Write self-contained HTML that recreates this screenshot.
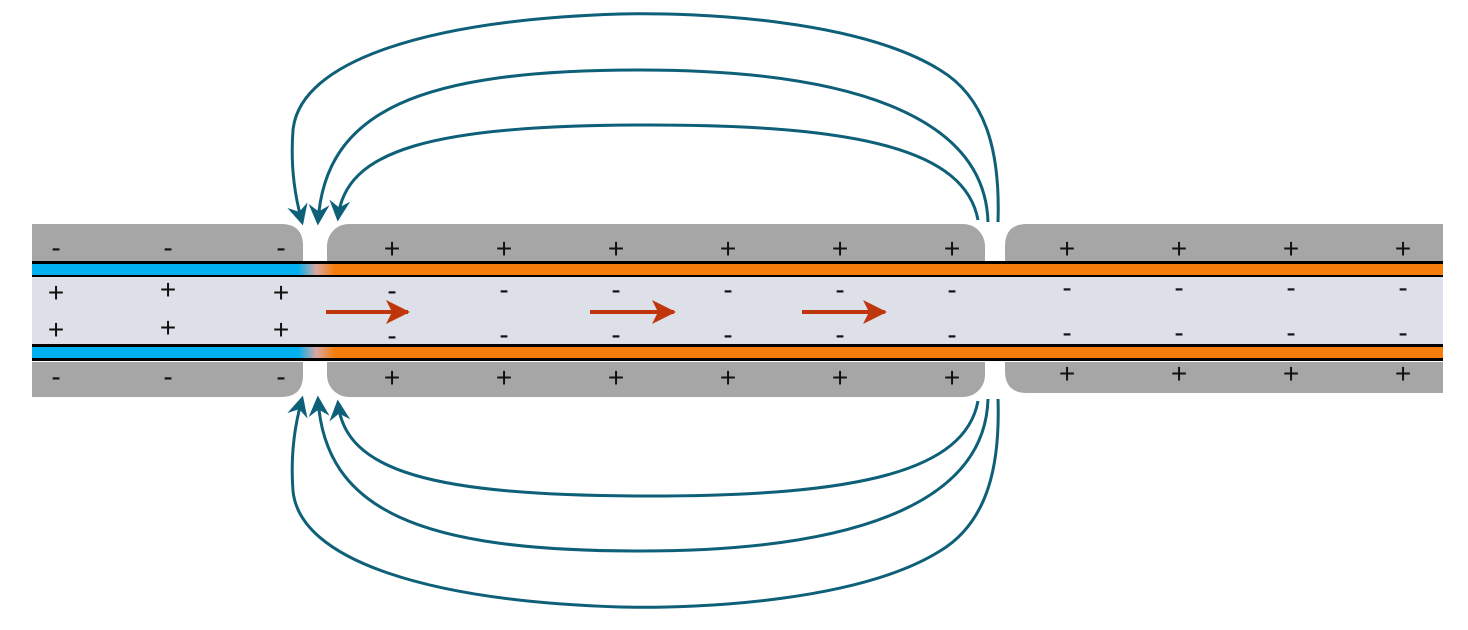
<!DOCTYPE html>
<html><head><meta charset="utf-8"><style>
html,body{margin:0;padding:0;background:#fff}
svg{display:block}
.c{font-family:"Liberation Sans",sans-serif;font-size:28px;fill:#111;text-anchor:middle}
</style></head><body>
<svg width="1468" height="630" viewBox="0 0 1468 630">
<defs>
<linearGradient id="g" x1="0" x2="1"><stop offset="0" stop-color="#00b0f0"/><stop offset="0.5" stop-color="#d9a7a0"/><stop offset="1" stop-color="#f47c0a"/></linearGradient>
<marker id="ah" viewBox="0 0 12 12" refX="10" refY="6" markerWidth="7" markerHeight="7" orient="auto"><path d="M0,0 L12,6 L0,12 L4,6 Z" fill="#0e5f78"/></marker>
<marker id="ra" viewBox="0 0 12 12" refX="11" refY="6" markerWidth="6" markerHeight="6" orient="auto"><path d="M0,0 L12,6 L0,12 L3,6 Z" fill="#c0360c"/></marker>
</defs>
<g>
<path d="M32,224 H281 Q303,224 303,246 V375 Q303,397 281,397 H32 Z" fill="#a6a6a6"/>
<rect x="327" y="224" width="658" height="173" rx="22" fill="#a6a6a6"/>
<path d="M1443,224 H1027 Q1005,224 1005,246 V371 Q1005,393 1027,393 H1443 Z" fill="#a6a6a6"/>
</g>
<rect x="32" y="261" width="1411" height="101" fill="#fff"/>
<rect x="32" y="277" width="1411" height="67" fill="#dde0e8"/>
<g>
<rect x="32" y="261" width="1411" height="16" fill="#000"/>
<rect x="32" y="264" width="266" height="11" fill="#00b0f0"/>
<rect x="298" y="264" width="37" height="11" fill="url(#g)"/>
<rect x="335" y="264" width="1108" height="11" fill="#f47c0a"/>
</g>
<g>
<rect x="32" y="344" width="1411" height="17" fill="#000"/>
<rect x="32" y="347" width="266" height="11" fill="#00b0f0"/>
<rect x="298" y="347" width="37" height="11" fill="url(#g)"/>
<rect x="335" y="347" width="1108" height="11" fill="#f47c0a"/>
</g>
<g>
<text class="c" x="56" y="257">-</text>
<text class="c" x="168" y="257">-</text>
<text class="c" x="281" y="257">-</text>
<text class="c" x="56" y="386">-</text>
<text class="c" x="168" y="386">-</text>
<text class="c" x="281" y="386">-</text>
<text class="c" x="56" y="302">+</text>
<text class="c" x="168" y="299">+</text>
<text class="c" x="281" y="302">+</text>
<text class="c" x="56" y="339">+</text>
<text class="c" x="168" y="337">+</text>
<text class="c" x="281" y="339">+</text>
<text class="c" x="392" y="258">+</text>
<text class="c" x="504" y="258">+</text>
<text class="c" x="616" y="258">+</text>
<text class="c" x="728" y="258">+</text>
<text class="c" x="840" y="258">+</text>
<text class="c" x="952" y="258">+</text>
<text class="c" x="1067" y="258">+</text>
<text class="c" x="1179" y="258">+</text>
<text class="c" x="1291" y="258">+</text>
<text class="c" x="1403" y="258">+</text>
<text class="c" x="392" y="387">+</text>
<text class="c" x="504" y="387">+</text>
<text class="c" x="616" y="387">+</text>
<text class="c" x="728" y="387">+</text>
<text class="c" x="840" y="387">+</text>
<text class="c" x="952" y="387">+</text>
<text class="c" x="1067" y="383">+</text>
<text class="c" x="1179" y="383">+</text>
<text class="c" x="1291" y="383">+</text>
<text class="c" x="1403" y="383">+</text>
<text class="c" x="392" y="300">-</text>
<text class="c" x="504" y="299">-</text>
<text class="c" x="616" y="299">-</text>
<text class="c" x="728" y="299">-</text>
<text class="c" x="840" y="299">-</text>
<text class="c" x="952" y="299">-</text>
<text class="c" x="1067" y="297">-</text>
<text class="c" x="1179" y="297">-</text>
<text class="c" x="1291" y="297">-</text>
<text class="c" x="1403" y="297">-</text>
<text class="c" x="392" y="345">-</text>
<text class="c" x="504" y="344">-</text>
<text class="c" x="616" y="344">-</text>
<text class="c" x="728" y="344">-</text>
<text class="c" x="840" y="344">-</text>
<text class="c" x="952" y="344">-</text>
<text class="c" x="1067" y="342">-</text>
<text class="c" x="1179" y="342">-</text>
<text class="c" x="1291" y="342">-</text>
<text class="c" x="1403" y="342">-</text>
</g>
<g stroke="#c0360c" stroke-width="4" marker-end="url(#ra)">
<line x1="326" y1="312" x2="408" y2="312"/><line x1="590" y1="312" x2="674" y2="312"/><line x1="802" y1="312" x2="885" y2="312"/>
</g>
<g fill="none" stroke="#0e5f78" stroke-width="3" marker-end="url(#ah)">
<path d="M978,220 C965,150 860,125 650,125 C430,125 345,150 338,218"/>
<path d="M988,222 C985,120 860,70 640,70 C420,70 325,110 318,222"/>
<path d="M998,222 C1000,160 990,100 940,70 C860,20 700,12 620,14 C430,20 300,60 293,130 C290,170 296,200 302,222"/>
<path d="M978,401 C965,471 860,496 650,496 C430,496 345,471 338,403"/>
<path d="M988,399 C985,501 860,551 640,551 C420,551 325,511 318,399"/>
<path d="M998,399 C1000,461 990,521 940,551 C860,601 700,609 620,607 C430,601 300,561 293,491 C290,451 296,421 302,399"/>
</g>
</svg>
</body></html>
